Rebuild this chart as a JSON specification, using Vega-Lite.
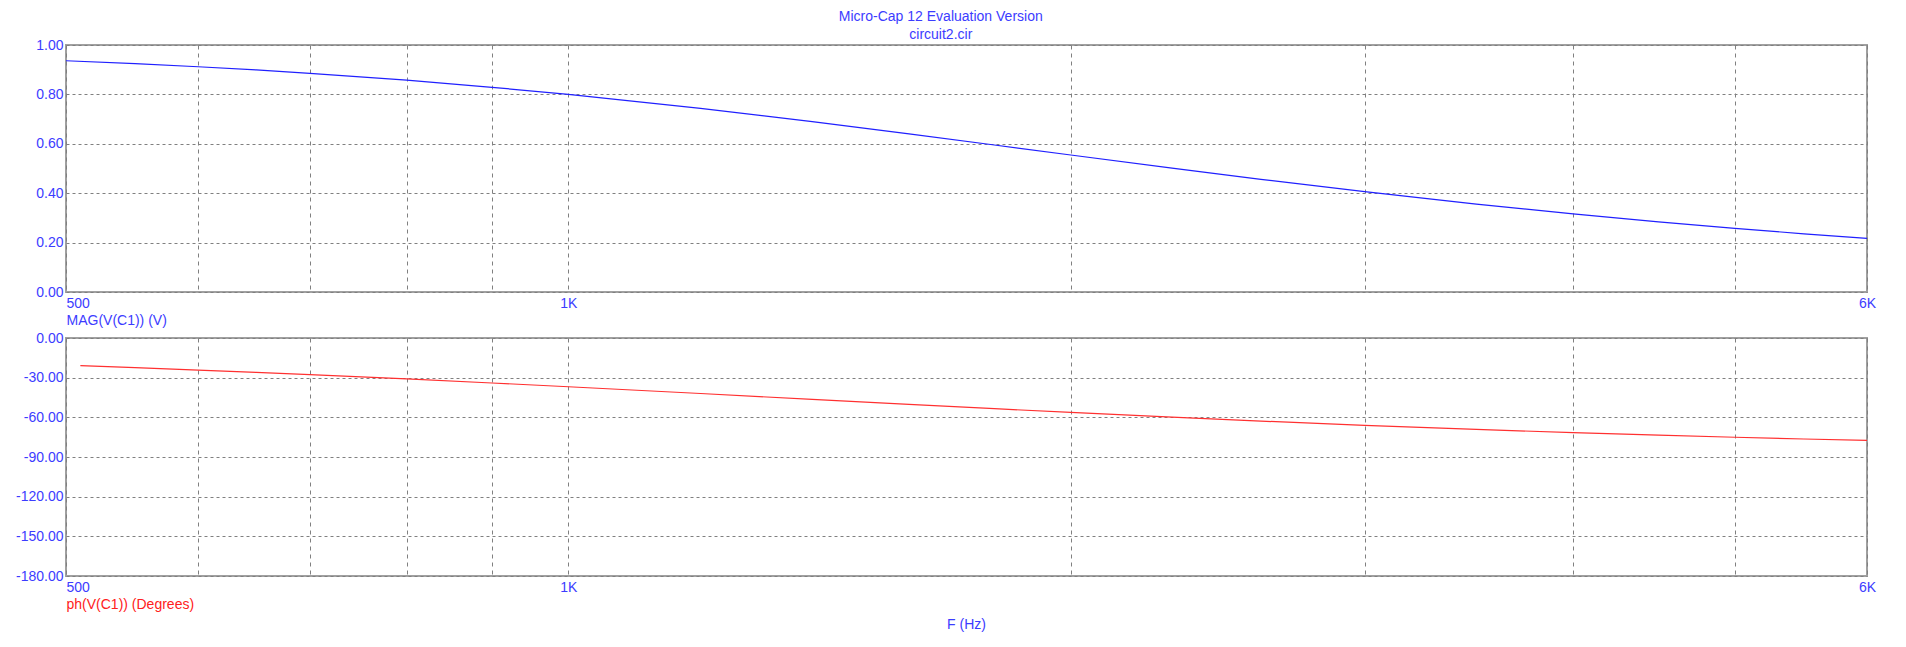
{
  "$schema": "https://vega.github.io/schema/vega-lite/v6.json",
  "padding": {"left": 5, "top": 10, "right": 30, "bottom": 5},
  "background": "white",
  "config": {
    "font": "Liberation Sans",
    "view": {"stroke": "#a0a0a0", "strokeWidth": 2},
    "axis": {"domain": false, "ticks": false, "labelFontSize": 14, "labelColor": "#3c3cff", "gridColor": "#808080", "gridOpacity": 1, "gridWidth": 1, "titleFontWeight": "normal", "titleFontSize": 14, "labelOverlap": false, "labelBound": false, "labelFlush": false},
    "concat": {"spacing": 2}
  },
  "title": {"text": "Micro-Cap 12 Evaluation Version", "subtitle": "circuit2.cir", "fontSize": 14, "subtitleFontSize": 14, "fontWeight": "normal", "color": "#3c3cff", "subtitleColor": "#3c3cff", "anchor": "middle", "offset": -5, "subtitlePadding": 4},
  "datasets": {
    "mag": [
      {"f": 500, "v": 0.9363}, {"f": 550, "v": 0.9244}, {"f": 600, "v": 0.9119}, {"f": 650, "v": 0.8989},
      {"f": 700, "v": 0.8854}, {"f": 800, "v": 0.8575}, {"f": 900, "v": 0.8288}, {"f": 1000, "v": 0.8},
      {"f": 1200, "v": 0.7433}, {"f": 1400, "v": 0.6897}, {"f": 1600, "v": 0.6402}, {"f": 1800, "v": 0.5952},
      {"f": 2000, "v": 0.5547}, {"f": 2300, "v": 0.5015}, {"f": 2600, "v": 0.4563}, {"f": 3000, "v": 0.4061},
      {"f": 3500, "v": 0.356}, {"f": 4000, "v": 0.3162}, {"f": 4500, "v": 0.2841}, {"f": 5000, "v": 0.2577},
      {"f": 5500, "v": 0.2356}, {"f": 6000, "v": 0.2169}
    ],
    "phase": [
      {"f": 510, "v": -20.93}, {"f": 550, "v": -22.42}, {"f": 600, "v": -24.23}, {"f": 650, "v": -25.99},
      {"f": 700, "v": -27.7}, {"f": 800, "v": -30.96}, {"f": 900, "v": -34.02}, {"f": 1000, "v": -36.87},
      {"f": 1200, "v": -41.99}, {"f": 1400, "v": -46.4}, {"f": 1600, "v": -50.19}, {"f": 1800, "v": -53.47},
      {"f": 2000, "v": -56.31}, {"f": 2300, "v": -59.9}, {"f": 2600, "v": -62.85}, {"f": 3000, "v": -66.04},
      {"f": 3500, "v": -69.15}, {"f": 4000, "v": -71.57}, {"f": 4500, "v": -73.5}, {"f": 5000, "v": -75.07},
      {"f": 5500, "v": -76.37}, {"f": 6000, "v": -77.47}
    ]
  },
  "vconcat": [
    {
      "width": 1801, "height": 247,
      "data": {"name": "mag"},
      "mark": {"type": "line", "color": "#2020ff", "strokeWidth": 1.2, "clip": true},
      "encoding": {
        "x": {"field": "f", "type": "quantitative", "scale": {"type": "log", "domain": [500, 6000], "nice": false},
          "axis": {"values": [500, 600, 700, 800, 900, 1000, 2000, 3000, 4000, 5000, 6000],
            "labelExpr": "datum.value == 500 ? '500' : datum.value == 1000 ? '1K' : datum.value == 6000 ? '6K' : ''",
            "grid": true, "gridDash": [4, 4], "labelPadding": 4,
            "labelAlign": {"condition": {"test": "datum.value <= 500", "value": "left"}, "value": "center"},
            "title": "MAG(V(C1)) (V)", "titleAnchor": "start", "titleAlign": "left", "titleColor": "#3c3cff", "titlePadding": 3}},
        "y": {"field": "v", "type": "quantitative", "scale": {"domain": [0, 1], "nice": false, "zero": false},
          "axis": {"values": [0, 0.2, 0.4, 0.6, 0.8, 1], "format": ".2f", "grid": true, "gridDash": [3, 3], "labelPadding": 3, "minExtent": 60, "maxExtent": 60, "title": null}}
      }
    },
    {
      "width": 1801, "height": 238,
      "title": {"text": "F (Hz)", "orient": "bottom", "anchor": "middle", "color": "#3c3cff", "fontSize": 14, "fontWeight": "normal", "offset": 7},
      "data": {"name": "phase"},
      "mark": {"type": "line", "color": "#ff3030", "strokeWidth": 1.2, "clip": true},
      "encoding": {
        "x": {"field": "f", "type": "quantitative", "scale": {"type": "log", "domain": [500, 6000], "nice": false},
          "axis": {"values": [500, 600, 700, 800, 900, 1000, 2000, 3000, 4000, 5000, 6000],
            "labelExpr": "datum.value == 500 ? '500' : datum.value == 1000 ? '1K' : datum.value == 6000 ? '6K' : ''",
            "grid": true, "gridDash": [4, 4], "labelPadding": 4,
            "labelAlign": {"condition": {"test": "datum.value <= 500", "value": "left"}, "value": "center"},
            "title": "ph(V(C1)) (Degrees)", "titleAnchor": "start", "titleAlign": "left", "titleColor": "#ff2020", "titlePadding": 3}},
        "y": {"field": "v", "type": "quantitative", "scale": {"domain": [-180, 0], "nice": false, "zero": false},
          "axis": {"values": [-180, -150, -120, -90, -60, -30, 0], "labelExpr": "replace(format(datum.value, '.2f'), '\u2212', '-')", "grid": true, "gridDash": [3, 3], "labelPadding": 3, "minExtent": 60, "maxExtent": 60, "title": null}}
      }
    }
  ]
}
